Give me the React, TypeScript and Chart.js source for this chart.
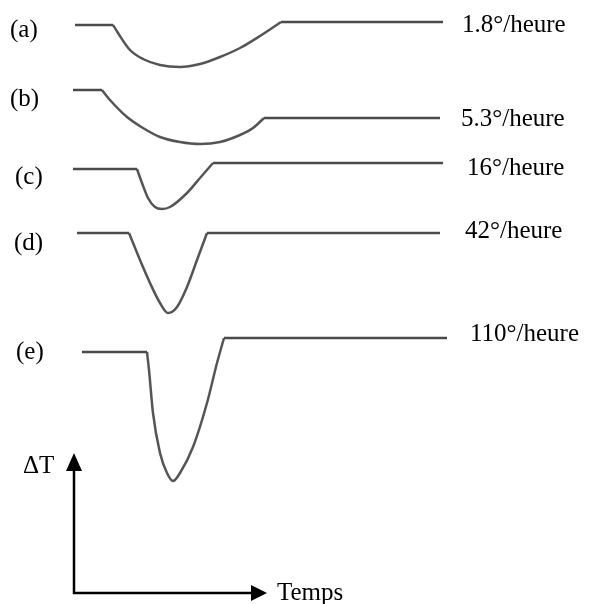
import React, { useEffect, useRef } from "react";
import { Chart, registerables } from "chart.js";

Chart.register(...registerables);

// Curves: [time, ΔT] (ΔT axis pointing down in page units)
const curveA: [number, number][] = [
  [75, 25], [113, 25], [118, 33], [130, 50], [143, 59], [160, 65], [180, 67],
  [200, 64], [220, 57], [240, 48], [260, 36], [281, 22], [443, 22],
];
const curveB: [number, number][] = [
  [73, 90], [102, 90], [110, 100], [127, 117], [143, 128], [160, 137], [180, 142],
  [200, 144], [220, 142], [240, 135], [253, 128], [264, 118], [440, 118],
];
const curveC: [number, number][] = [
  [73, 169], [137, 169], [142, 183], [148, 198], [155, 207], [162, 209],
  [170, 207], [187, 193], [200, 178], [213, 163], [443, 163],
];
const curveD: [number, number][] = [
  [77, 233], [129, 233], [140, 260], [150, 283], [160, 303], [168, 313],
  [177, 307], [187, 287], [197, 260], [207, 233], [440, 233],
];
const curveE: [number, number][] = [
  [82, 352], [147, 352], [149, 370], [153, 413], [160, 453], [167, 473],
  [173, 481], [180, 473], [193, 447], [207, 403], [217, 363], [224, 338], [447, 338],
];

const letters = ["(a)", "(b)", "(c)", "(d)", "(e)"];
const rates = ["1.8°/heure", "5.3°/heure", "16°/heure", "42°/heure", "110°/heure"];
const axisTitles = ["ΔT", "Temps"];

// Axis arrows (origin, top of ΔT arrow, end of Temps arrow)
const axisOrigin: [number, number] = [74, 593];
const axisTop: [number, number] = [74, 453];
const axisRight: [number, number] = [267, 593];

const curves = [curveA, curveB, curveC, curveD, curveE];

const FONT = "25px 'Liberation Serif', 'Times New Roman', serif";

// label layout (page units)
const letterPos: [number, number][] = [[10, 37], [10, 106], [15, 184], [14, 250], [16, 359]];
const ratePos: [number, number][] = [[462, 32], [461, 126], [467, 175], [465, 238], [470, 341]];
const titlePos: [number, number][] = [[23, 473], [277, 600]];

const textPlugin = {
  id: "textPlugin",
  afterDatasetsDraw(chart: any) {
    const ctx = chart.ctx;
    const xs = chart.scales.x;
    const ys = chart.scales.y;
    ctx.save();
    ctx.fillStyle = "#000";
    const tx = xs.getPixelForValue(axisTop[0]);
    const ty = ys.getPixelForValue(axisTop[1]);
    ctx.beginPath();
    ctx.moveTo(tx, ty);
    ctx.lineTo(tx - 8, ty + 18);
    ctx.lineTo(tx + 8, ty + 18);
    ctx.closePath();
    ctx.fill();
    const rx = xs.getPixelForValue(axisRight[0]);
    const ry = ys.getPixelForValue(axisRight[1]);
    ctx.beginPath();
    ctx.moveTo(rx, ry);
    ctx.lineTo(rx - 16, ry - 8);
    ctx.lineTo(rx - 16, ry + 8);
    ctx.closePath();
    ctx.fill();

    ctx.font = FONT;
    ctx.textBaseline = "alphabetic";
    ctx.textAlign = "left";
    letters.forEach((t, i) => {
      ctx.fillText(t, xs.getPixelForValue(letterPos[i][0]), ys.getPixelForValue(letterPos[i][1]));
    });
    rates.forEach((t, i) => {
      ctx.fillText(t, xs.getPixelForValue(ratePos[i][0]), ys.getPixelForValue(ratePos[i][1]));
    });
    axisTitles.forEach((t, i) => {
      ctx.fillText(t, xs.getPixelForValue(titlePos[i][0]), ys.getPixelForValue(titlePos[i][1]));
    });
    ctx.restore();
  },
};

const toPts = (arr: [number, number][]) => arr.map(([x, y]) => ({ x, y }));

export default function App() {
  const ref = useRef<HTMLCanvasElement | null>(null);
  useEffect(() => {
    if (!ref.current) return;
    const datasets: any[] = [];
    curves.forEach((c) => {
      const n = c.length;
      const base = { borderColor: "#555555", borderWidth: 2.5, pointRadius: 0, fill: false, clip: false };
      datasets.push({ ...base, borderColor: "#4a4a4a", data: toPts(c.slice(0, 2)), tension: 0 });
      datasets.push({ ...base, data: toPts(c.slice(1, n - 1)), cubicInterpolationMode: "monotone" });
      datasets.push({ ...base, borderColor: "#4a4a4a", data: toPts(c.slice(n - 2)), tension: 0 });
    });
    datasets.push({
      data: [
        { x: axisTop[0], y: axisTop[1] + 10 },
        { x: axisOrigin[0], y: axisOrigin[1] },
        { x: axisRight[0] - 10, y: axisRight[1] },
      ],
      borderColor: "#000",
      borderWidth: 2.5,
      pointRadius: 0,
      tension: 0,
      fill: false,
      clip: false,
    });
    const chart = new Chart(ref.current, {
      type: "line",
      data: { datasets },
      options: {
        animation: false,
        responsive: false,
        maintainAspectRatio: false,
        layout: { padding: 0 },
        plugins: { legend: { display: false }, tooltip: { enabled: false } },
        scales: {
          x: { type: "linear", min: 0, max: 589, display: false },
          y: { type: "linear", min: 0, max: 604, reverse: true, display: false },
        },
      },
      plugins: [textPlugin],
    });
    return () => chart.destroy();
  }, []);
  return (
    <div style={{ position: "fixed", left: 0, top: 0, width: 589, height: 604, background: "#fff" }}>
      <canvas ref={ref} width={589} height={604} style={{ width: 589, height: 604 }} />
    </div>
  );
}
